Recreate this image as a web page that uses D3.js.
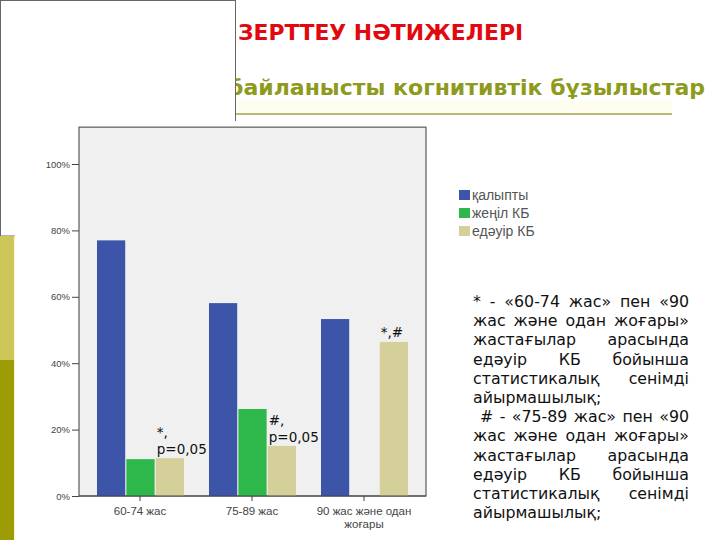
<!DOCTYPE html>
<html><head><meta charset="utf-8">
<script src="https://cdn.jsdelivr.net/npm/d3@7"></script>
<style>body{margin:0;background:#fff}svg{display:block}</style>
</head><body>
<script>
const categories = ["60-74 жас", "75-89 жас", "90 жас және одан жоғары"];
const categoryLines = [["60-74 жас"], ["75-89 жас"], ["90 жас және одан", "жоғары"]];
const seriesNames = ["қалыпты", "жеңіл КБ", "едәуір КБ"];
const normalValues = [77.0, 58.1, 53.3];
const mildValues = [11.1, 26.2, 0];
const severeValues = [11.4, 15.1, 46.4];
const yTicks = [0, 20, 40, 60, 80, 100];
const barNotes = [["*,", "p=0,05"], ["#,", "p=0,05"], ["*,#"]];
const titleText = "ЗЕРТТЕУ НӘТИЖЕЛЕРІ";
const subtitleText = "Жасқа байланысты когнитивтік бұзылыстар";
const noteLines = [
  [" * - «60-74 жас» пен «90", true],
  ["жас және одан жоғары»", true],
  ["жастағылар арасында", true],
  ["едәуір КБ бойынша", true],
  ["статистикалық сенімді", true],
  ["айырмашылық;", false],
  ["  # - «75-89 жас» пен «90", true],
  ["жас және одан жоғары»", true],
  ["жастағылар арасында", true],
  ["едәуір КБ бойынша", true],
  ["статистикалық сенімді", true],
  ["айырмашылық;", false]
];

const colors = ["#3d55a8", "#2eb84b", "#d5d09a"];
const W = 720, H = 540;
const svg = d3.select("body").append("svg").attr("width", W).attr("height", H);

// title & subtitle
svg.append("text").attr("x", 238).attr("y", 40).text(titleText)
  .attr("font-family", "DejaVu Sans").attr("font-weight", "bold").attr("font-size", 21.9)
  .attr("fill", "#e2080f");
svg.append("rect").attr("x", 236).attr("y", 100).attr("width", 436).attr("height", 13).attr("fill", "#fffdf0");
svg.append("text").attr("x", 705).attr("y", 95).attr("text-anchor", "end").text(subtitleText)
  .attr("font-family", "DejaVu Sans").attr("font-weight", "bold").attr("font-size", 22)
  .attr("fill", "#8d9a1c");
svg.append("line").attr("x1", 236).attr("x2", 672).attr("y1", 114).attr("y2", 114)
  .attr("stroke", "#a3a34a").attr("stroke-width", 1.5);

// white box with border
svg.append("rect").attr("x", 0.5).attr("y", 0.5).attr("width", 235).attr("height", 235.5)
  .attr("fill", "#fff").attr("stroke", "#666");
// olive strip
svg.append("rect").attr("x", 0).attr("y", 236).attr("width", 14).attr("height", 124).attr("fill", "#cdc75a");
svg.append("rect").attr("x", 0).attr("y", 360).attr("width", 14).attr("height", 180).attr("fill", "#9c9c06");
svg.append("rect").attr("x", 14).attr("y", 236).attr("width", 1).attr("height", 304).attr("fill", "#fbf7c8");
// chart panel
svg.append("rect").attr("x", 15).attr("y", 121).attr("width", 425).attr("height", 419).attr("fill", "#fff");

// scales
const y = d3.scaleLinear().domain([0, 100]).range([496, 164]);
const x0 = d3.scaleBand().domain(categories).range([84, 420]);
const x1 = d3.scaleBand().domain(seriesNames).range([13, 100]).paddingInner(0.04);
const plotL = 79, plotR = 426, plotT = y(111.1), plotB = y(0);

svg.append("rect").attr("x", plotL).attr("y", plotT).attr("width", plotR - plotL).attr("height", plotB - plotT)
  .attr("fill", "#f0f0f0").attr("stroke", "#5a5a5a").attr("stroke-width", 1.2);

const seriesValues = [normalValues, mildValues, severeValues];
const bars = [];
categories.forEach((c, i) => {
  seriesNames.forEach((s, j) => {
    bars.push({ c, s, j, v: seriesValues[j][i], i });
  });
});
svg.append("g").selectAll("rect").data(bars.filter(d => d.v > 0)).join("rect")
  .attr("x", d => x0(d.c) + x1(d.s)).attr("width", x1.bandwidth())
  .attr("y", d => y(d.v)).attr("height", d => y(0) - y(d.v))
  .attr("fill", d => colors[d.j]);

// y axis
const yAxis = svg.append("g").attr("transform", `translate(${plotL},0)`)
  .call(d3.axisLeft(y).tickValues(yTicks).tickFormat(d => d + "%").tickSize(7).tickPadding(2));
yAxis.select(".domain").remove();
yAxis.selectAll("line").attr("stroke", "#444");
yAxis.selectAll("text").attr("font-family", "Liberation Sans").attr("font-size", 9.5).attr("fill", "#444");

// x axis
const xAxis = svg.append("g").attr("transform", `translate(0,${plotB})`)
  .call(d3.axisBottom(x0).tickSize(5).tickFormat(""));
xAxis.select(".domain").attr("stroke", "#444").attr("d", `M${plotL},0H${plotR}`);
xAxis.selectAll("line").attr("stroke", "#444");
categories.forEach((c, i) => {
  const t = svg.append("text").attr("text-anchor", "middle")
    .attr("font-family", "Liberation Sans").attr("font-size", 11.5).attr("fill", "#444");
  categoryLines[i].forEach((ln, k) => {
    t.append("tspan").attr("x", x0(c) + x0.bandwidth() / 2).attr("y", 515 + k * 12.5).text(ln);
  });
});

// bar notes on the severe bars
categories.forEach((c, i) => {
  const bx = x0(c) + x1(seriesNames[2]) + 1;
  const top = y(severeValues[i]);
  const notes = barNotes[i];
  notes.forEach((n, k) => {
    const off = (notes.length - 1 - k) * 17;
    svg.append("text").attr("x", bx).attr("y", top - 4 - off - (notes.length === 1 ? 1 : 0)).text(n)
      .attr("font-family", "DejaVu Sans").attr("font-size", 13.5).attr("fill", "#111");
  });
});

// legend
const lg = svg.append("g");
seriesNames.forEach((s, j) => {
  lg.append("rect").attr("x", 459).attr("y", 190 + j * 18).attr("width", 11).attr("height", 10).attr("fill", colors[j]);
  lg.append("text").attr("x", 472).attr("y", 200 + j * 18).text(s)
    .attr("font-family", "Liberation Sans").attr("font-size", 14).attr("fill", "#555");
});

// justified notes
const nx = 473, nw = 216;
noteLines.forEach(([line, just], k) => {
  const yy = 307 + k * 19.2;
  const lead = line.match(/^\s*/)[0].length;
  const words = line.trim().split(/\s+/);
  const g = svg.append("g");
  const els = words.map(w => g.append("text").text(w).attr("y", yy)
    .attr("font-family", "DejaVu Sans").attr("font-size", 15.8).attr("fill", "#111"));
  const widths = els.map(e => e.node().getComputedTextLength());
  const space = 5;
  const indent = Math.max(0, lead - 1) * 7;
  let gap = space;
  if (just && words.length > 1) gap = (nw - indent - d3.sum(widths)) / (words.length - 1);
  let cx = nx + indent;
  els.forEach((e, m) => { e.attr("x", cx); cx += widths[m] + gap; });
});
</script>
</body></html>
